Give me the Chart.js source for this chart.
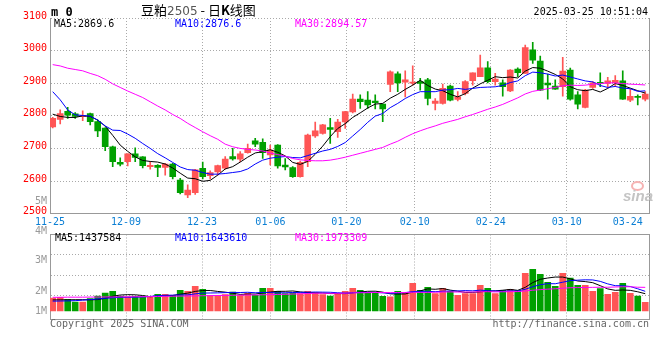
<!DOCTYPE html>
<html><head><meta charset="utf-8">
<script src="https://cdn.jsdelivr.net/npm/chart.js@4.4.1/dist/chart.umd.min.js"></script>
<style>
html,body{margin:0;padding:0;background:#fff;width:660px;height:360px;overflow:hidden}
#wrap{position:relative;width:660px;height:360px}
canvas{position:absolute;left:0}
.t{position:absolute;white-space:nowrap;font:10px "DejaVu Sans Mono",monospace;line-height:12px}
.vl{position:absolute;right:613px;text-align:right;color:#9a9a9a;font:10px "DejaVu Sans Mono",monospace;line-height:12px}
</style></head><body>
<div id="wrap">
<canvas id="main" width="660" height="232" style="top:0"></canvas>
<canvas id="vol" width="660" height="132" style="top:228px"></canvas>

<div class="t" style="left:51px;top:5px;font-weight:bold;font-size:12px;line-height:14px">m 0</div>
<div class="t" style="left:141px;top:1px;font:13px 'Noto Sans CJK SC';line-height:17px;color:#000">豆粕<span style="font:12px 'DejaVu Sans';color:#555">2505</span> - 日<b>K</b>线图</div>
<div class="t" style="right:12px;top:6px;color:#000">2025-03-25 10:51:04</div>

<div class="t" style="left:54px;top:18px;color:#000">MA5:2869.6</div>
<div class="t" style="left:175px;top:18px;color:#00f">MA10:2876.6</div>
<div class="t" style="left:295px;top:18px;color:#f0f">MA30:2894.57</div>

<div class="t" style="left:55px;top:232px;color:#000">MA5:1437584</div>
<div class="t" style="left:175px;top:232px;color:#00f">MA10:1643610</div>
<div class="t" style="left:295px;top:232px;color:#f0f">MA30:1973309</div>

<div class="vl" style="top:195px">5M</div>
<div class="vl" style="top:225px">4M</div>
<div class="vl" style="top:254px">3M</div>
<div class="vl" style="top:285px">2M</div>
<div class="vl" style="top:305px">1M</div>

<div class="t" style="left:50px;top:318px;color:#666">Copyright 2025 SINA.COM</div>
<div class="t" style="right:11px;top:318px;color:#666">http://finance.sina.com.cn</div>

<div style="position:absolute;left:631px;top:181px;width:9px;height:6px;border:2px solid #f6b3b3;border-radius:50%"></div>
<div class="t" style="left:623px;top:188px;font:italic bold 15px 'Liberation Sans';line-height:16px;color:#c4c4c4">sina</div>
</div>
<script>
// ---- data ----
const dateIdx    = [0, 10, 20, 29, 39, 48, 58, 68, 78];
const dateLabels = ['11-25','12-09','12-23','01-06','01-20','02-10','02-24','03-10','03-24'];
const priceTicks = [2500, 2600, 2700, 2800, 2900, 3000, 3100];

const opens  = [2766,2789,2814,2806,2797,2807,2782,2762,2705,2657,2659,2683,2674,2644,2648,2642,2652,2603,2557,2564,
                2639,2616,2628,2639,2675,2667,2687,2723,2719,2680,2710,2649,2641,2613,2659,2738,2746,2764,2751,2781,
                2812,2851,2848,2845,2836,2896,2929,2903,2900,2905,2910,2838,2838,2891,2850,2869,2908,2920,2947,2905,
                2901,2876,2943,2930,3002,2968,2900,2891,2889,2940,2864,2826,2887,2903,2899,2902,2907,2848,2860,2851];
const highs  = [2795,2818,2826,2810,2815,2808,2787,2763,2707,2671,2683,2702,2675,2659,2650,2654,2654,2608,2588,2636,
                2658,2631,2649,2675,2700,2690,2713,2731,2729,2710,2712,2669,2644,2661,2744,2781,2774,2792,2789,2814,
                2867,2864,2874,2864,2836,2938,2935,2938,2953,2915,2915,2853,2897,2894,2874,2908,2932,2986,2966,2930,
                2910,2942,2947,3017,3025,2983,2928,2910,2979,2946,2874,2881,2905,2932,2918,2923,2938,2881,2864,2874];
const lows   = [2763,2775,2792,2792,2785,2772,2736,2693,2644,2646,2646,2659,2640,2636,2613,2618,2606,2560,2549,2559,
                2606,2606,2618,2636,2664,2659,2685,2705,2669,2649,2639,2634,2611,2612,2644,2734,2744,2715,2734,2761,
                2809,2823,2823,2821,2782,2874,2874,2858,2894,2879,2833,2818,2836,2846,2846,2864,2894,2920,2901,2894,
                2860,2874,2920,2930,2961,2877,2851,2881,2860,2848,2821,2824,2884,2889,2887,2889,2850,2843,2833,2846];
const closes = [2792,2807,2802,2798,2801,2782,2754,2705,2659,2652,2683,2672,2647,2648,2642,2652,2613,2564,2572,2634,
                2613,2626,2647,2667,2668,2683,2700,2713,2687,2695,2646,2643,2613,2657,2741,2754,2772,2758,2781,2813,
                2851,2843,2833,2840,2821,2935,2901,2910,2902,2899,2853,2845,2884,2848,2858,2905,2932,2947,2905,2913,
                2889,2940,2932,3009,2971,2879,2895,2882,2937,2851,2836,2879,2901,2899,2907,2909,2851,2860,2856,2867];

const ma5  = [2805,2798,2795,2795,2800,2798,2787,2768,2740,2710,2691,2674,2663,2660,2658,2652,2640,2624,2609,2607,
              2599,2602,2618,2637,2644,2658,2673,2686,2690,2696,2688,2677,2657,2651,2660,2682,2707,2736,2761,2776,
              2795,2809,2824,2836,2838,2854,2866,2881,2894,2909,2893,2882,2877,2866,2858,2868,2885,2898,2909,2920,
              2917,2919,2916,2937,2948,2946,2937,2927,2913,2889,2880,2877,2881,2873,2884,2899,2893,2885,2877,2869.6];
const ma10 = [2874,2849,2818,2803,2801,2799,2787,2769,2756,2755,2744,2731,2715,2700,2684,2671,2657,2643,2635,2633,
              2626,2621,2621,2623,2626,2629,2637,2652,2664,2670,2673,2675,2672,2671,2678,2685,2692,2697,2706,2718,
              2738,2758,2780,2799,2807,2825,2838,2853,2865,2874,2874,2874,2879,2880,2884,2881,2884,2887,2888,2889,
              2893,2902,2907,2923,2934,2932,2928,2922,2925,2919,2913,2907,2904,2893,2887,2890,2885,2883,2875,2876.6];
const ma30 = [2957,2953,2946,2942,2938,2930,2923,2912,2898,2887,2876,2866,2856,2843,2830,2818,2804,2792,2777,2764,
              2751,2739,2728,2713,2705,2700,2697,2695,2692,2686,2681,2676,2669,2665,2663,2662,2662,2664,2668,2673,
              2679,2685,2691,2697,2703,2713,2722,2734,2745,2754,2762,2769,2777,2783,2789,2797,2804,2812,2820,2827,
              2835,2845,2855,2867,2875,2879,2883,2887,2892,2894,2893,2894,2897,2899,2901,2901,2899,2897,2896,2894.57];

// volume in millions of lots
const vols  = [1.08,1.14,0.98,0.75,0.75,1.03,1.25,1.50,1.64,1.23,1.17,1.23,1.17,1.17,1.39,1.39,1.31,1.73,1.64,2.06,
               1.81,1.31,1.31,1.37,1.58,1.31,1.48,1.31,1.89,1.89,1.64,1.45,1.50,1.45,1.64,1.53,1.37,1.25,1.45,1.64,
               1.89,1.73,1.50,1.50,1.23,1.17,1.64,1.56,2.31,1.73,1.98,1.45,1.89,1.64,1.31,1.45,1.45,2.14,1.89,1.45,
               1.73,1.81,1.70,3.14,3.48,3.06,2.39,2.06,3.14,2.75,2.14,2.14,1.64,1.87,1.39,1.56,2.31,1.48,1.25,0.72];
const vma5  = [0.92,0.93,0.93,0.94,0.94,0.93,0.95,1.06,1.23,1.33,1.36,1.35,1.29,1.19,1.23,1.27,1.29,1.40,1.49,1.63,
               1.71,1.71,1.63,1.57,1.48,1.38,1.41,1.41,1.51,1.58,1.64,1.64,1.67,1.59,1.54,1.51,1.50,1.45,1.45,1.45,
               1.52,1.59,1.64,1.65,1.57,1.43,1.41,1.42,1.58,1.68,1.84,1.81,1.87,1.74,1.65,1.55,1.55,1.60,1.65,1.68,
               1.73,1.80,1.72,1.97,2.37,2.64,2.75,2.83,2.83,2.68,2.50,2.45,2.36,2.11,1.84,1.72,1.75,1.72,1.60,1.44];
const vma10 = [0.82,0.83,0.84,0.86,0.90,0.95,1.00,1.06,1.10,1.14,1.14,1.15,1.17,1.21,1.28,1.31,1.32,1.34,1.34,1.43,
               1.49,1.50,1.51,1.53,1.55,1.54,1.56,1.52,1.54,1.53,1.51,1.52,1.54,1.55,1.56,1.58,1.57,1.56,1.52,1.49,
               1.52,1.55,1.55,1.55,1.51,1.47,1.50,1.53,1.62,1.63,1.64,1.61,1.65,1.66,1.67,1.70,1.68,1.74,1.69,1.67,
               1.64,1.68,1.66,1.81,2.02,2.19,2.28,2.27,2.40,2.53,2.57,2.60,2.59,2.47,2.26,2.11,2.10,2.04,1.85,1.64];
const vma30 = [1.14,1.14,1.15,1.15,1.15,1.16,1.16,1.17,1.17,1.18,1.18,1.19,1.19,1.20,1.21,1.22,1.23,1.24,1.25,1.26,
               1.27,1.28,1.29,1.30,1.31,1.32,1.33,1.34,1.35,1.36,1.38,1.39,1.41,1.43,1.46,1.48,1.48,1.47,1.47,1.48,
               1.51,1.52,1.53,1.54,1.54,1.53,1.54,1.54,1.56,1.55,1.55,1.56,1.58,1.59,1.58,1.58,1.58,1.61,1.61,1.59,
               1.60,1.61,1.62,1.67,1.73,1.78,1.82,1.85,1.90,1.94,1.95,1.96,1.97,1.98,1.98,2.00,2.02,2.02,1.98,1.97];

// ---- drawing ----
const RED = '#ff5555', GREEN = '#00a000', GRID = '#a9a9a9', FRAME = '#999';
const MONO = 'DejaVu Sans Mono';
const X_MIN = -0.36, X_MAX = 79.5;
const idx = closes.map((_, i) => i);
const colorFn = ctx => closes[ctx.dataIndex] >= opens[ctx.dataIndex] ? RED : GREEN;
const pts = arr => idx.map(i => ({x: i, y: arr[i]}));

// date gridlines in the reference run on a slightly wider pitch than the candles
function dateTicks(scale) {
  scale.ticks = [{value: X_MIN}].concat(dateIdx.map(d => ({value: d * 7.6 / 7.5 + X_MIN})));
}
const gridColor = ctx => (ctx.index === dateIdx.length ? 'rgba(0,0,0,0)' : GRID);

const line = (arr, color) => ({type: 'line', data: pts(arr), borderColor: color, borderWidth: 1,
  pointRadius: 0, tension: 0, order: 1});

const common = {
  responsive: false, animation: false, events: [],
  plugins: {legend: {display: false}, tooltip: {enabled: false}, title: {display: false}}
};

new Chart(document.getElementById('main'), {
  type: 'bar',
  data: {datasets: [
    {data: idx.map(i => ({x: i, y: [lows[i], highs[i]]})), backgroundColor: colorFn,
     barThickness: 1, minBarLength: 1, grouped: false, order: 3},
    {data: idx.map(i => ({x: i, y: [opens[i], closes[i]]})), backgroundColor: colorFn,
     barThickness: 6, minBarLength: 1, grouped: false, order: 2},
    line(ma30, '#ff00ff'), line(ma10, '#0000ff'), line(ma5, '#000000')
  ]},
  options: Object.assign({}, common, {
    layout: {padding: {left: 0, right: 11, top: 18, bottom: 0}},
    scales: {
      x: {type: 'linear', offset: false, min: X_MIN, max: X_MAX, afterBuildTicks: dateTicks,
          afterFit: s => { s.height = 18.4; },
          ticks: {autoSkip: false, maxRotation: 0, align: 'inner', padding: 3, color: '#0b7fd4',
                  font: {family: MONO, size: 10}, callback: (v, i) => (i === 0 ? '' : dateLabels[i - 1])},
          grid: {offset: false, drawTicks: false, color: gridColor, lineWidth: 1},
          border: {display: true, color: FRAME, dash: [1, 2]}},
      y: {min: priceTicks[0], max: priceTicks[priceTicks.length - 1],
          afterBuildTicks: s => { s.ticks = priceTicks.map(v => ({value: v})); },
          afterFit: s => { s.width = 50; },
          ticks: {color: '#ff0000', font: {family: MONO, size: 10}, padding: 3, labelOffset: -2,
                  callback: v => String(v)},
          grid: {drawTicks: false, color: GRID, lineWidth: 1},
          border: {display: true, color: FRAME, dash: [1, 2]}},
      yR: {position: 'right', min: priceTicks[0], max: priceTicks[priceTicks.length - 1],
           afterFit: s => { s.width = 0; }, ticks: {display: false},
           grid: {display: false, drawTicks: false}, border: {display: true, color: FRAME}}
    }
  })
});

new Chart(document.getElementById('vol'), {
  type: 'bar',
  data: {datasets: [
    {data: pts(vols), backgroundColor: colorFn, barThickness: 6, grouped: false, order: 2},
    line(vma30, '#ff00ff'), line(vma10, '#0000ff'), line(vma5, '#000000')
  ]},
  options: Object.assign({}, common, {
    layout: {padding: {left: 0, right: 11, top: 6.5, bottom: 41}},
    scales: {
      x: {type: 'linear', offset: false, min: X_MIN, max: X_MAX, afterBuildTicks: dateTicks,
          afterFit: s => { s.height = 0; }, ticks: {display: false},
          grid: {offset: false, drawTicks: false, color: gridColor, lineWidth: 1},
          border: {display: true, color: FRAME, dash: [1, 2]}},
      xT: {type: 'linear', position: 'top', offset: false, min: X_MIN, max: X_MAX,
           afterFit: s => { s.height = 0; }, ticks: {display: false},
           grid: {display: false, drawTicks: false}, border: {display: true, color: FRAME}},
      y: {min: -0.67, max: 6.38,
          afterBuildTicks: s => { s.ticks = [1.33, 3.0, 4.67].map(v => ({value: v})); },
          afterFit: s => { s.width = 50; }, ticks: {display: false},
          grid: {drawTicks: false, color: GRID, lineWidth: 1},
          border: {display: true, color: FRAME, dash: [1, 2]}},
      yR: {position: 'right', min: -0.67, max: 6.38,
           afterFit: s => { s.width = 0; }, ticks: {display: false},
           grid: {display: false, drawTicks: false}, border: {display: true, color: FRAME}}
    }
  })
});
</script>
</body></html>
